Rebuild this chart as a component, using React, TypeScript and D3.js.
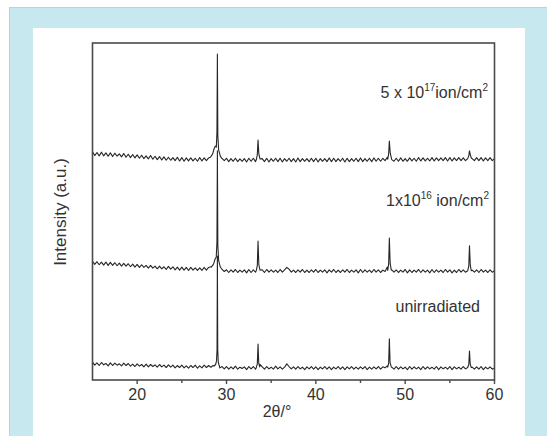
import React from "react";
import * as d3 from "d3";

// ---- data ----
const twoThetaStart = 15;
const twoThetaStep = 0.25;

const baseUnirradiated = [
  5.3, 4.4, 5.1, 4.3, 5.2, 4.5, 4.9, 4.2, 5.1, 4.3, 5.0, 4.4, 4.8, 4.2, 5.0, 4.3,
  4.9, 4.1, 4.7, 4.0, 4.8, 4.1, 4.6, 3.9, 4.7, 3.9, 4.6, 4.0, 4.5, 3.8, 4.6, 3.9,
  4.4, 3.7, 4.5, 3.8, 4.4, 3.6, 4.3, 3.7, 4.4, 3.6, 4.2, 3.5, 4.3, 3.7, 4.4, 3.5,
  4.2, 3.6, 4.4, 3.7, 4.3, 3.8, 4.3, 4.6, 5.0, 3.6, 4.0, 3.3, 4.0, 3.2, 3.9, 3.3,
  4.1, 3.2, 3.8, 3.4, 3.9, 3.1, 4.0, 3.3, 4.0, 3.2, 4.0, 4.6, 3.9, 3.2, 4.0, 3.3,
  3.8, 3.2, 4.1, 3.3, 3.9, 3.2, 3.8, 4.8, 4.0, 3.3, 3.9, 3.2, 4.0, 3.3, 3.8, 3.1,
  3.9, 3.3, 4.0, 3.2, 3.9, 3.1, 3.8, 3.3, 4.0, 3.2, 3.9, 3.1, 3.8, 3.3, 4.0, 3.2,
  3.9, 3.1, 3.9, 3.3, 4.0, 3.2, 3.8, 3.2, 3.9, 3.3, 4.0, 3.1, 3.8, 3.2, 3.9, 3.3,
  4.0, 3.2, 3.9, 3.6, 4.2, 4.0, 3.8, 3.2, 4.0, 3.2, 3.9, 3.3, 3.8, 3.1, 4.0, 3.2,
  3.9, 3.3, 3.8, 3.1, 4.0, 3.2, 3.9, 3.3, 3.8, 3.2, 4.0, 3.1, 3.9, 3.3, 3.8, 3.2,
  4.0, 3.1, 3.9, 3.3, 3.8, 3.2, 4.0, 3.3, 4.3, 4.0, 3.8, 3.2, 3.9, 3.2, 4.0, 3.1,
  3.8, 3.3, 3.9, 3.2, 3.6,
];
const peaksUnirradiated: [number, number][][] = [
  [[28.6, 4.1], [28.78, 4.6], [28.88, 5.6], [28.94, 9], [28.98, 36.8], [29.02, 9], [29.08, 5.2], [29.2, 4.2]],
  [[33.35, 3.8], [33.45, 4.8], [33.53, 10.7], [33.61, 5.0], [33.72, 3.9]],
  [[48.05, 3.8], [48.15, 5.0], [48.23, 12.2], [48.31, 5.2], [48.45, 3.8]],
  [[57.0, 3.7], [57.12, 4.6], [57.2, 8.6], [57.28, 4.8], [57.4, 3.7]],
];

const base1e16 = [
  6.2, 5.3, 6.1, 5.2, 6.0, 5.1, 6.0, 5.0, 5.9, 5.0, 5.8, 4.9, 5.7, 4.8, 5.6, 4.8,
  5.5, 4.6, 5.4, 4.5, 5.3, 4.4, 5.2, 4.4, 5.0, 4.2, 5.0, 4.2, 4.8, 4.0, 4.8, 4.0,
  4.6, 3.8, 4.7, 3.9, 4.6, 3.7, 4.5, 3.6, 4.5, 3.6, 4.4, 3.5, 4.4, 3.6, 4.3, 3.5,
  4.3, 3.5, 4.4, 3.6, 4.4, 4.6, 5.2, 6.0, 6.0, 4.8, 3.8, 3.2, 3.7, 2.9, 3.7, 3.0,
  3.8, 2.9, 3.6, 3.0, 3.7, 2.8, 3.8, 2.9, 3.7, 3.0, 4.5, 5.0, 3.7, 2.9, 3.8, 3.0,
  3.7, 3.0, 3.6, 2.9, 3.8, 3.0, 3.7, 4.4, 3.9, 3.0, 3.6, 2.9, 3.7, 3.0, 3.8, 2.9,
  3.6, 2.9, 3.7, 3.0, 3.8, 2.9, 3.6, 3.0, 3.7, 2.8, 3.7, 3.0, 3.8, 2.9, 3.6, 2.9,
  3.7, 3.0, 3.8, 2.9, 3.6, 3.0, 3.7, 2.8, 3.8, 2.9, 3.7, 3.0, 3.6, 2.9, 3.8, 3.0,
  3.7, 2.9, 3.6, 3.2, 4.5, 4.0, 3.7, 3.0, 3.7, 2.9, 3.6, 3.0, 3.8, 2.8, 3.7, 2.9,
  3.6, 3.0, 3.8, 2.9, 3.7, 3.0, 3.6, 2.8, 3.8, 2.9, 3.7, 3.0, 3.6, 2.9, 3.8, 3.0,
  3.7, 2.8, 3.6, 2.9, 3.8, 3.0, 3.7, 3.0, 4.2, 3.9, 3.6, 3.0, 3.7, 2.9, 3.8, 3.0,
  3.6, 2.9, 3.7, 3.0, 3.4,
];
const peaks1e16: [number, number][][] = [
  [[28.3, 4.5], [28.55, 5.4], [28.72, 6.9], [28.85, 7.4], [28.93, 12], [28.98, 39], [29.03, 11], [29.12, 6.5], [29.3, 4.6]],
  [[33.35, 3.6], [33.45, 5.0], [33.53, 12.2], [33.62, 5.2], [33.75, 3.6]],
  [[48.05, 3.5], [48.15, 5.4], [48.23, 13.1], [48.32, 5.6], [48.45, 3.6]],
  [[57.0, 3.4], [57.12, 4.8], [57.2, 10.8], [57.29, 5.0], [57.4, 3.4]],
];

const base5e17 = [
  6.2, 5.1, 6.0, 5.0, 6.1, 5.0, 5.9, 4.9, 5.9, 4.8, 5.8, 4.9, 5.6, 4.7, 5.7, 4.6,
  5.5, 4.5, 5.4, 4.4, 5.3, 4.3, 5.2, 4.2, 5.0, 4.1, 5.1, 4.0, 4.9, 3.9, 4.8, 3.8,
  4.7, 3.7, 4.6, 3.7, 4.5, 3.6, 4.6, 3.5, 4.5, 3.4, 4.4, 3.5, 4.4, 3.5, 4.3, 3.4,
  4.5, 3.5, 4.4, 3.6, 4.4, 4.9, 5.8, 7.0, 7.0, 5.2, 4.3, 3.6, 4.3, 3.3, 4.2, 3.4,
  4.3, 3.3, 4.1, 3.4, 4.2, 3.2, 4.3, 3.4, 4.3, 3.3, 4.8, 5.0, 4.2, 3.3, 4.3, 3.2,
  4.2, 3.4, 4.3, 3.3, 4.3, 3.2, 4.2, 3.4, 4.3, 3.3, 4.2, 3.2, 4.4, 3.3, 4.2, 3.4,
  4.2, 3.3, 4.3, 3.3, 4.3, 3.2, 4.2, 3.4, 4.2, 3.3, 4.4, 3.3, 4.3, 3.3, 4.2, 3.4,
  4.3, 3.2, 4.3, 3.3, 4.2, 3.4, 4.3, 3.3, 4.4, 3.3, 4.2, 3.4, 4.3, 3.3, 4.4, 3.4,
  4.3, 3.4, 4.3, 3.6, 4.6, 4.2, 3.9, 3.4, 4.3, 3.4, 4.4, 3.4, 4.2, 3.4, 4.4, 3.5,
  4.3, 3.4, 4.5, 3.5, 4.4, 3.5, 4.3, 3.5, 4.5, 3.5, 4.4, 3.6, 4.4, 3.6, 4.5, 3.5,
  4.5, 3.5, 4.4, 3.6, 4.5, 3.6, 4.4, 3.6, 4.6, 4.4, 4.2, 3.6, 4.5, 3.6, 4.5, 3.5,
  4.4, 3.6, 4.5, 3.6, 4.2,
];
const peaks5e17: [number, number][][] = [
  [[28.2, 4.6], [28.45, 5.6], [28.62, 7.2], [28.74, 7.9], [28.86, 7.6], [28.93, 12], [28.98, 35.2], [29.03, 11], [29.12, 6.8], [29.3, 5.0], [29.45, 4.3]],
  [[33.35, 4.0], [33.45, 5.4], [33.53, 9.7], [33.62, 5.6], [33.75, 4.1]],
  [[48.05, 4.0], [48.15, 5.6], [48.23, 9.4], [48.33, 5.8], [48.48, 4.1]],
  [[57.0, 4.2], [57.12, 5.0], [57.2, 6.5], [57.3, 5.2], [57.42, 4.3]],
];

const seriesOffsets = [0, 29, 61.5];
const xMajorTicks = [20, 30, 40, 50, 60];
const xMinorTicks = [25, 35, 45, 55];
const xDomain: [number, number] = [15, 60];
const yDomain: [number, number] = [0, 100];

function buildSeries(base: number[], peaks: [number, number][][], offset: number) {
  const pts: [number, number][] = [];
  base.forEach((v, i) => {
    const x = twoThetaStart + i * twoThetaStep;
    const inside = peaks.some((g) => x >= g[0][0] && x <= g[g.length - 1][0]);
    if (!inside) pts.push([x, v + offset]);
  });
  peaks.forEach((g) => g.forEach(([x, v]) => pts.push([x, v + offset])));
  pts.sort((a, b) => a[0] - b[0]);
  return pts;
}

const FONT = "'Liberation Sans', Arial, Helvetica, sans-serif";

export default function App() {
  const W = 547;
  const H = 436;
  const left = 92.5, right = 494.5, top = 43, bottom = 380;
  const x = d3.scaleLinear().domain(xDomain).range([left, right]);
  const y = d3.scaleLinear().domain(yDomain).range([bottom, top]);
  const line = d3
    .line<[number, number]>()
    .x((d) => x(d[0]))
    .y((d) => y(d[1]));

  const series = [
    buildSeries(baseUnirradiated, peaksUnirradiated, seriesOffsets[0]),
    buildSeries(base1e16, peaks1e16, seriesOffsets[1]),
    buildSeries(base5e17, peaks5e17, seriesOffsets[2]),
  ];

  const textColor = "#333";

  return (
    <svg
      width={W}
      height={H}
      style={{ position: "absolute", left: 0, top: 0, display: "block" }}
      fontFamily={FONT}
    >
      <rect x={0} y={0} width={W} height={H} fill="#fff" />
      <rect x={9} y={7} width={W - 9} height={H - 7} fill="#c8e8ef" />
      <line x1={9.5} y1={7} x2={9.5} y2={H} stroke="#a6dbe4" />
      <line x1={9} y1={7.5} x2={W} y2={7.5} stroke="#a6dbe4" />
      <rect x={33} y={28} width={492} height={H - 28} fill="#fff" />

      <defs>
        <clipPath id="plotclip">
          <rect x={left} y={top} width={right - left} height={bottom - top} />
        </clipPath>
      </defs>

      <g clipPath="url(#plotclip)">
        {series.map((s, i) => (
          <path
            key={i}
            d={line(s) || ""}
            fill="none"
            stroke="#262626"
            strokeWidth={1.1}
            strokeLinejoin="round"
          />
        ))}
      </g>

      {/* frame */}
      <rect
        x={left}
        y={top}
        width={right - left}
        height={bottom - top}
        fill="none"
        stroke="#4a4a4a"
        strokeWidth={1.6}
      />

      {/* x ticks */}
      {xMajorTicks.map((t) => (
        <g key={"M" + t}>
          <line x1={x(t)} x2={x(t)} y1={bottom} y2={bottom + 4} stroke="#4a4a4a" strokeWidth={1.4} />
          <text x={x(t)} y={400} textAnchor="middle" fontSize={16} fill={textColor}>
            {t}
          </text>
        </g>
      ))}
      {xMinorTicks.map((t) => (
        <line key={"m" + t} x1={x(t)} x2={x(t)} y1={bottom} y2={bottom + 3} stroke="#4a4a4a" strokeWidth={1.4} />
      ))}

      <text x={277} y={417} textAnchor="middle" fontSize={16} fill={textColor}>
        2θ/°
      </text>

      <text
        transform="translate(66,212) rotate(-90)"
        textAnchor="middle"
        fontSize={17}
        fill={textColor}
      >
        Intensity (a.u.)
      </text>

      {/* annotations */}
      <text x={488} y={98} textAnchor="end" fontSize={16} fill={textColor}>
        5 x 10
        <tspan fontSize={10} dy={-7}>17</tspan>
        <tspan dy={7}>ion/cm</tspan>
        <tspan fontSize={10} dy={-7}>2</tspan>
      </text>
      <text x={489} y={206} textAnchor="end" fontSize={16} fill={textColor}>
        1x10
        <tspan fontSize={10} dy={-7}>16</tspan>
        <tspan dy={7}> ion/cm</tspan>
        <tspan fontSize={10} dy={-7}>2</tspan>
      </text>
      <text x={480} y={312} textAnchor="end" fontSize={16} fill={textColor}>
        unirradiated
      </text>
    </svg>
  );
}
